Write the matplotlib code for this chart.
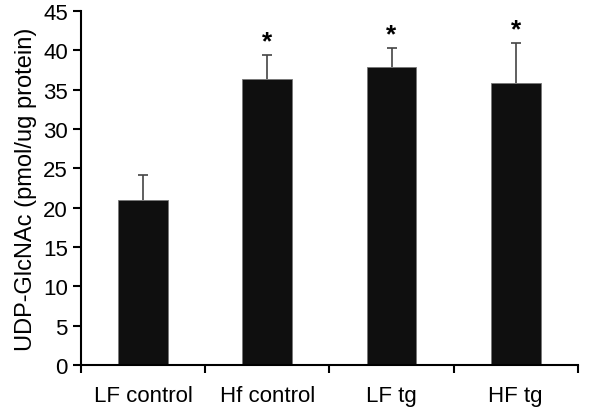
import matplotlib
matplotlib.use('Agg')
import matplotlib.pyplot as plt
import numpy as np

groups = ['LF control', 'Hf control', 'LF tg', 'HF tg']
means = [21.0, 36.3, 37.9, 35.9]
errs = [3.1, 3.1, 2.4, 5.0]
signif = [False, True, True, True]

plt.rcParams['font.family'] = ['Liberation Sans', 'DejaVu Sans']

fig = plt.figure(figsize=(6, 4.1), dpi=100)
ax = fig.add_axes([0.135, 0.107, 0.828, 0.864])

x = np.arange(len(groups))
ax.bar(x, means, width=0.4, color='#0f0f0f', edgecolor='#777777', linewidth=0.6)
eb = ax.errorbar(x, means, yerr=[np.zeros(len(errs)), errs], fmt='none',
                 ecolor='#444444', elinewidth=1.2, capsize=3.5, capthick=1.2)
# hide the lower caps, only upward whiskers are shown
eb[1][0].set_visible(False)
for xi, m, e, s in zip(x, means, errs, signif):
    if s:
        ax.text(xi, m + e + 0.2, '*', ha='center', va='bottom', fontsize=19,
                fontweight='bold')

ax.set_xlim(-0.5, 3.5)
ax.set_ylim(0, 45)
ax.set_yticks(np.arange(0, 46, 5))
ax.set_xticks(x)
ax.set_xticklabels(groups, fontsize=16)
ax.set_xticks(np.arange(-0.5, 4, 1), minor=True)
ax.tick_params(axis='x', which='major', length=0, pad=14)
ax.tick_params(axis='x', which='minor', length=6, width=1.5)
ax.tick_params(axis='y', labelsize=16, length=6, width=1.5)
ax.set_ylabel('UDP-GlcNAc (pmol/ug protein)', fontsize=17)

for side in ['top', 'right']:
    ax.spines[side].set_visible(False)
for side in ['left', 'bottom']:
    ax.spines[side].set_linewidth(1.5)

plt.savefig('out.png', dpi=100)
